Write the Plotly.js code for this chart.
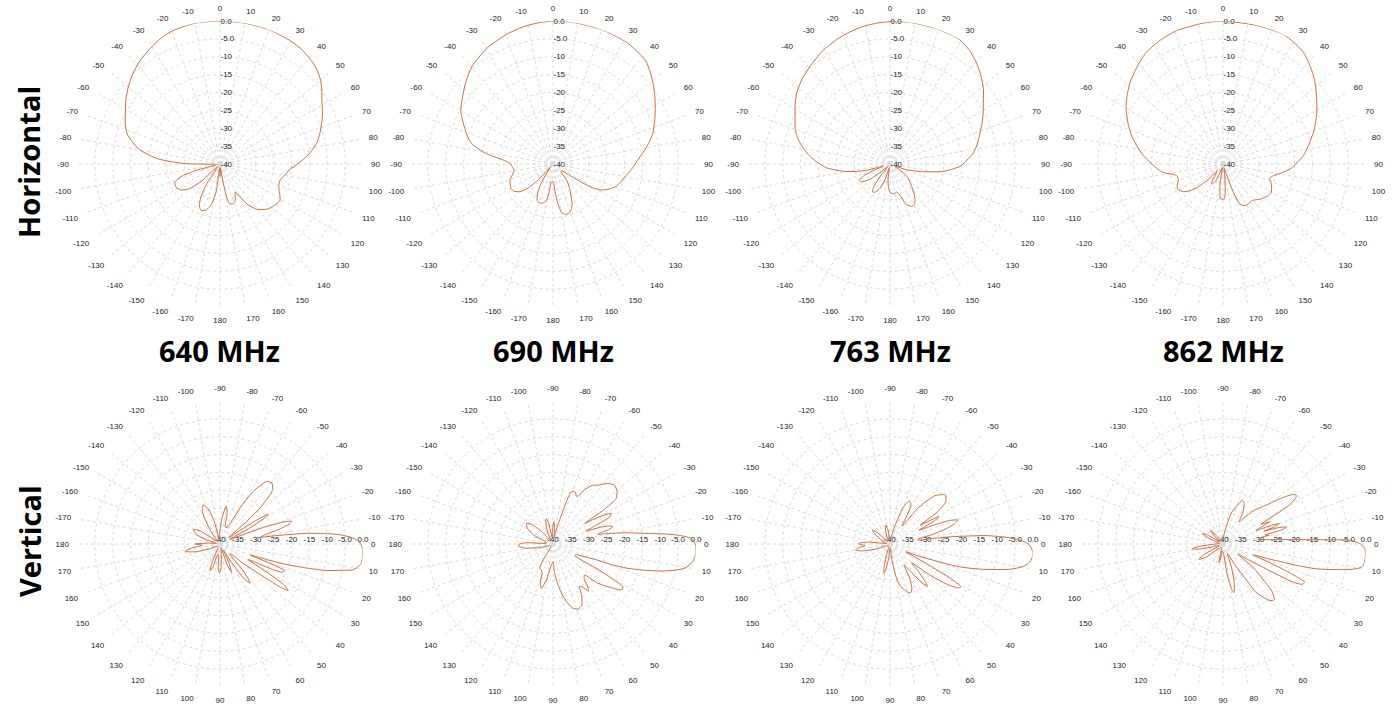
<!DOCTYPE html>
<html><head><meta charset="utf-8">
<script src="https://cdn.plot.ly/plotly-3.0.1.min.js"></script>
<style>html,body{margin:0;padding:0;background:#fff;}#chart{width:1394px;height:706px;}</style>
</head><body><div id="chart"></div>
<script>
const frequencies = ['640 MHz', '690 MHz', '763 MHz', '862 MHz'];
const planeLabels = ['Horizontal', 'Vertical'];
const angleTickVals = [0,10,20,30,40,50,60,70,80,90,100,110,120,130,140,150,160,170,180,190,200,210,220,230,240,250,260,270,280,290,300,310,320,330,340,350];
const angleTickText = ['0','10','20','30','40','50','60','70','80','90','100','110','120','130','140','150','160','170','180','-170','-160','-150','-140','-130','-120','-110','-100','-90','-80','-70','-60','-50','-40','-30','-20','-10'];
const radialTickVals = [-40,-35,-30,-25,-20,-15,-10,-5,0];
const radialTickText = ['-40','-35','-30','-25','-20','-15','-10','-5.0','0.0'];

// [angle (deg), gain (dB)]
const h640 = [[-180,-36.5],[-176,-39],[-172,-32],[-168,-28.5],[-163,-26.5],[-158,-26],[-154,-26.8],[-150,-29.3],[-146,-33.5],[-142,-39],[-137,-39],[-133,-33],[-129,-29],[-124,-27],[-118,-26.1],[-112,-26.4],[-108,-28.5],[-105,-33],[-102,-39],[-96,-39],[-91,-37],[-89.5,-31],[-88,-27.5],[-85,-22.2],[-80,-17.2],[-76,-14.8],[-72,-12.7],[-67,-11.2],[-63,-10.3],[-56,-8.2],[-50,-6.5],[-44,-4.9],[-38,-3.5],[-31,-2.2],[-25,-1.1],[-19,-0.4],[-10,0],[0,0],[10,0],[20,0],[30,-0.3],[35,-0.6],[40,-1.2],[45,-2],[50,-3.3],[54,-4.8],[58,-6.4],[63,-7.8],[66,-8.7],[70,-9.9],[74,-11.1],[78,-12.4],[82,-14.2],[85,-15.7],[90,-18.3],[95,-20.6],[98,-21.2],[101,-21.9],[105,-22.6],[110,-22.5],[115,-21.7],[121,-20.4],[128,-20.9],[134,-21.8],[141,-23.7],[146,-26.5],[150,-30.5],[152,-31],[155,-29.8],[158,-28.8],[162,-28.3],[166,-28.5],[168.5,-30.2],[170.5,-35.5],[174,-39],[178,-37],[180,-36.5]];
const h690 = [[-180,-35],[-175,-35],[-172,-32],[-170,-29.8],[-165,-28.7],[-160,-28.5],[-156,-29],[-152,-31],[-149,-33],[-145,-37],[-141,-39],[-137,-34],[-134,-30.4],[-130,-28],[-125,-26.7],[-120,-26.4],[-115,-26.8],[-110,-27.2],[-104,-28.4],[-99,-29],[-94,-28.6],[-89,-28],[-86,-26.5],[-84,-24.7],[-81,-20.9],[-76,-16.6],[-72,-14.8],[-67,-13],[-60,-10.2],[-52,-8.1],[-46,-6.3],[-40,-4.6],[-34,-3.5],[-29,-2.6],[-19,-1.4],[-12,-0.7],[-6,-0.3],[0,0],[8,0],[20,0],[31,-0.2],[36,-0.6],[42,-1.2],[47,-2.7],[52.5,-4.5],[57,-6],[62,-7.6],[67,-9.1],[73,-10.8],[77,-12.3],[81,-13.9],[85,-15.5],[90,-17],[95,-18.3],[100,-19.5],[105,-20.4],[110,-21.4],[114,-22.8],[118,-24.5],[121,-27],[122.5,-30],[124,-34],[128,-37],[133,-37],[140,-34],[145,-32],[149,-30.5],[154,-27.8],[158,-26.3],[162,-25.5],[166,-25.5],[170,-26.2],[173,-29],[176,-32.5],[178,-34.6],[180,-35]];
const h763 = [[-180,-32],[-176,-33.5],[-173,-35.6],[-170,-39],[-166,-38],[-162,-35],[-157,-32.5],[-152,-31],[-148,-30.8],[-145,-32],[-142,-35],[-138,-39],[-132,-37],[-127,-33],[-122,-30.5],[-118,-30.3],[-114,-32],[-111,-36],[-108,-38],[-105,-33.2],[-102,-30],[-99,-26.8],[-96,-24.5],[-93.6,-22.3],[-89,-19.8],[-84.5,-17.5],[-80,-15.5],[-75,-13.4],[-70,-11.8],[-63.4,-10.3],[-58,-8.7],[-52.7,-7.2],[-46,-5.8],[-39.3,-4.7],[-31,-3.2],[-23,-2.1],[-17,-1.4],[-11,-0.8],[-5,-0.4],[0,-0.2],[8,0],[19,0],[29,-0.1],[35,-1.2],[40.6,-2.8],[46,-4.6],[51.5,-6.6],[56,-8.5],[61.3,-10.3],[66,-11.8],[71,-13.4],[77,-14.9],[82.5,-16.5],[87,-18.4],[92,-20.4],[95,-22.8],[98,-25],[101,-28.5],[104,-31.3],[108.8,-35],[115,-38.5],[122,-36.5],[126.5,-34.2],[131,-32.7],[136,-31.3],[141,-29.3],[145,-27.8],[149,-26.8],[153,-26.7],[157.7,-27.7],[161,-30],[164,-31.5],[167,-32],[171,-31.6],[175,-31.7],[180,-32]];
const h862 = [[-180,-30.2],[-176,-30.2],[-172,-33.9],[-169,-39],[-163,-38],[-157,-35],[-153,-33.8],[-150.5,-33.6],[-147,-34.5],[-143,-37],[-139,-37.5],[-136,-33.5],[-132,-30],[-128.9,-28.1],[-125,-26.5],[-119,-25.5],[-114,-26],[-110.5,-26.7],[-104,-26.6],[-98,-23.1],[-93,-21.2],[-88.7,-19.6],[-84,-17.6],[-78,-15.3],[-73,-13.3],[-68,-11.5],[-60.4,-8.8],[-55,-7.2],[-48.7,-5.4],[-41,-3.6],[-34.4,-2.1],[-27,-1.2],[-19.2,-0.5],[-8,-0.2],[0,0],[13.7,-0.1],[24.9,0],[30,-0.6],[35.7,-1.5],[40,-2.8],[45.6,-4.6],[50,-6.2],[55.2,-8.1],[61.1,-10],[66,-11.7],[70.7,-13.2],[77,-15.3],[84.1,-17.4],[89,-19.3],[94.3,-21.2],[100.2,-24.2],[104,-25.8],[107.2,-26.4],[111,-25.6],[117.2,-24.7],[121,-24.3],[124.9,-24.5],[129,-25.1],[133.4,-25.7],[138,-26.5],[142,-27],[147,-26.8],[152,-26.8],[157,-27.8],[159,-30],[160.5,-33],[162,-37],[166,-39],[171,-37],[174,-34.4],[176.5,-31],[178.4,-30.2],[180,-30.2]];

const v640 = [[-180,-33],[-175,-37],[-170,-39],[-163,-36],[-158,-33],[-152,-31.5],[-147,-33],[-142,-38],[-135,-39],[-125,-35],[-119,-30],[-113,-28.1],[-108,-30],[-104,-34],[-100,-39],[-92,-37],[-86,-33],[-81,-29.4],[-77,-31],[-73,-35],[-67,-35],[-61,-28.5],[-57.7,-22.6],[-53.3,-18.2],[-49.7,-17.6],[-46,-18.8],[-44.6,-20.3],[-42,-25],[-40.4,-30.2],[-38.5,-35],[-36,-37],[-33.5,-29],[-31.8,-24.1],[-30,-26],[-28,-31],[-26,-37],[-24,-36],[-21,-27],[-19,-21],[-17.6,-19],[-16,-19.8],[-14,-23],[-12,-26.5],[-10.5,-28],[-9.5,-28.6],[-8.5,-24],[-7,-15.6],[-5.5,-9.8],[-4.4,-6.3],[-3,-3.5],[-1.8,-1.8],[0,-0.6],[2.3,0],[4.2,0],[6,0],[8.2,-0.2],[10,-1.3],[11,-2.1],[12.4,-5.7],[14,-9.3],[15.5,-14.9],[17,-20],[18,-24.3],[19,-29],[20,-31],[21,-26],[22.3,-20.4],[24,-20.8],[25,-21.5],[26.5,-26],[27.5,-29.5],[29,-31],[31,-25],[32.5,-19],[34.3,-16.9],[35.5,-19],[37,-25],[40,-32],[43,-36],[46,-36],[49,-30],[52.4,-26.2],[55,-28],[58,-34],[61,-38],[64,-35],[67.6,-31.4],[71,-34],[75,-39],[83,-37],[88,-33],[91,-31.9],[94,-33],[98,-37],[103,-37],[107,-33],[110.6,-32],[114,-35],[120,-39],[140,-39],[155,-37],[162,-33],[168,-30],[172,-32],[176,-35],[180,-33]];
const v690 = [[-180,-30.5],[-177,-33],[-174,-38],[-165,-38],[-155,-34],[-148,-31.5],[-142,-30.6],[-137,-32],[-132,-36],[-125,-39],[-114,-36],[-108,-33.5],[-105,-32.7],[-102,-34],[-97,-38],[-92,-36],[-88,-33.8],[-85,-35],[-81,-38],[-76,-35],[-74.5,-33],[-72.5,-27.5],[-70.7,-24.5],[-67,-24.2],[-63,-25.2],[-60,-22.5],[-56,-20.2],[-52.7,-19.3],[-48,-17.2],[-43.7,-16.2],[-39.5,-16.8],[-35.8,-18.2],[-34,-22.7],[-33,-29.4],[-31.5,-27],[-29.5,-23.5],[-27.7,-21.6],[-25.5,-22.5],[-23.5,-27],[-21.5,-30],[-19.5,-26],[-17.5,-23.2],[-16.1,-22.6],[-14.5,-24],[-13,-26.8],[-12.1,-27.2],[-11.2,-25],[-10.4,-23.4],[-8.5,-18.8],[-6.6,-14.2],[-5.2,-9],[-4.1,-5],[-2.3,-1.3],[0,-0.2],[1,0],[4,0],[7.2,-0.6],[10.5,-2.6],[13.6,-7.9],[16.4,-14.3],[18.2,-18.5],[19.3,-22.2],[20.2,-27.6],[22.5,-31],[25,-33],[28,-33],[29.5,-25],[30.5,-20],[31.5,-17.1],[33,-16.8],[34.6,-17.4],[37,-19.8],[41.2,-23.3],[44.4,-27.6],[48,-27],[51,-24.5],[53,-23.5],[55.5,-25.5],[58,-26],[61,-23.5],[65,-21],[69,-20.5],[73,-21.3],[76,-23],[79,-25],[83,-28.5],[87,-32],[90,-35],[95,-34],[100,-30],[104.7,-27.2],[108,-28.5],[111,-31.5],[114,-32],[118.7,-32.3],[122,-35],[128,-39],[150,-39],[165,-36],[172,-32],[176,-30.5],[180,-30.5]];
const v763 = [[-180,-31.3],[-178.8,-31.3],[-175,-34],[-170,-39],[-160,-38],[-150,-36],[-145,-34.5],[-141.6,-33.7],[-138,-35],[-132,-39],[-115,-38],[-108,-36],[-103,-34.6],[-98,-36],[-92,-39],[-80,-38],[-74,-34],[-70,-29],[-66,-26.8],[-62,-27.5],[-59,-31],[-56,-34],[-52,-27],[-47,-21.5],[-41.4,-19.3],[-37,-20.5],[-34,-24],[-32,-30],[-30.5,-27],[-29.2,-24.3],[-27.5,-26],[-25.5,-31],[-23.5,-27],[-21.5,-22],[-19.6,-20],[-17.5,-21],[-15,-24],[-12.5,-28],[-10,-32],[-8.3,-32.2],[-7.3,-27],[-6.7,-22.4],[-5,-13.1],[-3.8,-9],[-2.7,-5.7],[-1,-2.5],[0.4,-1],[3,0],[5.1,0],[7,-0.4],[8.8,-1.5],[10.5,-3.5],[12,-5.9],[14.8,-12.2],[16.5,-15.8],[18.2,-19.6],[19.5,-23.5],[20.7,-27.3],[23,-31.5],[26,-35],[28,-30],[29.5,-21],[31.1,-16.8],[33,-17.5],[35.5,-21],[38,-26],[41,-32],[44,-29],[46.5,-26],[48.4,-24.2],[50.5,-26],[53,-30],[56,-33],[60,-29],[64,-26],[67,-25.2],[70,-25.7],[73,-26.8],[76,-27.7],[79,-30],[83,-35],[88,-39],[95,-36],[99,-33],[101.6,-31.6],[104,-33],[108,-37],[115,-39],[150,-39],[160,-36],[166,-32],[170,-30.2],[173,-31],[176,-33],[180,-31.3]];
const v862 = [[-180,-38],[-170,-39],[-160,-37],[-155,-34],[-153,-33.5],[-150,-35],[-145,-39],[-138,-37],[-132,-34.8],[-128,-37],[-120,-39],[-100,-39],[-88,-38],[-80,-35.6],[-75,-31],[-69.7,-28.4],[-66,-26.6],[-62.5,-27.2],[-58,-29.5],[-54,-32.4],[-52,-31],[-47,-27],[-42.2,-23.9],[-38,-19],[-35.4,-16.1],[-33.8,-15.4],[-32.5,-15.8],[-30.5,-18.5],[-29,-24],[-27.5,-28],[-25.5,-25.5],[-24,-28],[-22.5,-30],[-21,-25.5],[-20,-23.3],[-18.5,-24.5],[-17.5,-28],[-16.5,-24],[-15,-21.6],[-13.5,-23],[-12.2,-28],[-11.2,-27.5],[-10.7,-26.9],[-9.9,-29],[-7,-29.5],[-6,-28.4],[-5,-26],[-4,-22.6],[-3,-16.8],[-2.3,-10.5],[-1.7,-4.5],[0,-1.5],[1.9,-0.3],[4,0],[5.9,0],[8,-0.2],[9.5,-0.7],[11,-3],[12,-5.6],[13.5,-9.5],[14.9,-13],[16,-17.5],[16.9,-22.5],[18,-26.5],[19.1,-30.3],[20,-31],[21.5,-27],[23,-21],[25.1,-14.8],[27,-15.2],[28.5,-17.5],[29.4,-23],[30.5,-28],[32,-32],[34,-35],[36,-33.8],[38,-29],[41.4,-25.3],[44,-21],[47.3,-18.8],[50.5,-19.5],[53,-21.5],[55.8,-23.7],[57,-28.4],[60,-33],[65,-37],[70,-33],[74,-28.5],[77.3,-26],[79,-27],[82,-31],[86,-37],[95,-38],[100,-35.5],[102,-34.7],[104,-36],[110,-39],[135,-38],[142,-34],[147.4,-32],[151,-34],[157,-39],[165,-37],[168,-33],[171.3,-31.3],[174,-33],[178,-37],[180,-38]];

const horizontalSeries = [h640, h690, h763, h862];
const verticalSeries = [v640, v690, v763, v862];

const W = 1394, H = 706, R = 143;
const centersX = [220, 553, 890, 1223];
const rowCY = [164, 544];
const lineColor = '#c96f43';
const gridColor = '#dadada';
const tickFont = {family: 'Liberation Sans, Arial, sans-serif', size: 8, color: '#222'};

const traces = [];
const layout = {
  width: W, height: H, margin: {l: 0, r: 0, t: 0, b: 0},
  paper_bgcolor: '#fff', showlegend: false, annotations: []
};

function polarCfg(cx, cy, horizontal) {
  return {
    domain: {x: [(cx - R) / W, (cx + R) / W], y: [1 - (cy + R) / H, 1 - (cy - R) / H]},
    bgcolor: '#fff',
    radialaxis: {
      range: [-40, 0], tickmode: 'array', tickvals: radialTickVals, ticktext: radialTickText,
      angle: horizontal ? 90 : 0, side: horizontal ? 'clockwise' : 'counterclockwise',
      tickangle: horizontal ? 90 : 0,
      showline: false, ticks: '', gridcolor: gridColor, griddash: 'dot', gridwidth: 1,
      tickfont: tickFont, layer: 'below traces'
    },
    angularaxis: {
      rotation: horizontal ? 90 : 0, direction: 'clockwise', tickmode: 'array',
      tickvals: angleTickVals, ticktext: angleTickText, showline: false,
      ticks: 'outside', ticklen: 6, tickcolor: 'rgba(0,0,0,0)',
      gridcolor: gridColor, griddash: 'dot', gridwidth: 1, tickfont: tickFont, layer: 'below traces'
    }
  };
}

let k = 0;
[horizontalSeries, verticalSeries].forEach((row, ri) => {
  row.forEach((series, ci) => {
    k++;
    const name = k === 1 ? 'polar' : 'polar' + k;
    layout[name] = polarCfg(centersX[ci], rowCY[ri], ri === 0);
    traces.push({
      type: 'scatterpolar', mode: 'lines', subplot: name,
      theta: series.map(p => p[0]), r: series.map(p => p[1]),
      line: {color: lineColor, width: 1, shape: 'spline', smoothing: 0.6},
      hoverinfo: 'skip'
    });
  });
});

const titleFont = {family: 'Open Sans, Noto Sans, sans-serif', size: 29, color: '#000', weight: 700};
frequencies.forEach((f, i) => {
  layout.annotations.push({text: '<b>' + f + '</b>', xref: 'paper', yref: 'paper', x: centersX[i] / W, y: 1 - 350 / H,
    xanchor: 'center', yanchor: 'middle', showarrow: false, font: titleFont});
});
planeLabels.forEach((p, i) => {
  layout.annotations.push({text: '<b>' + p + '</b>', xref: 'paper', yref: 'paper', x: 29 / W, y: 1 - (i === 0 ? 162 : 541) / H,
    xanchor: 'center', yanchor: 'middle', textangle: -90, showarrow: false, font: titleFont});
});

Plotly.newPlot('chart', traces, layout, {staticPlot: true});
</script></body></html>
